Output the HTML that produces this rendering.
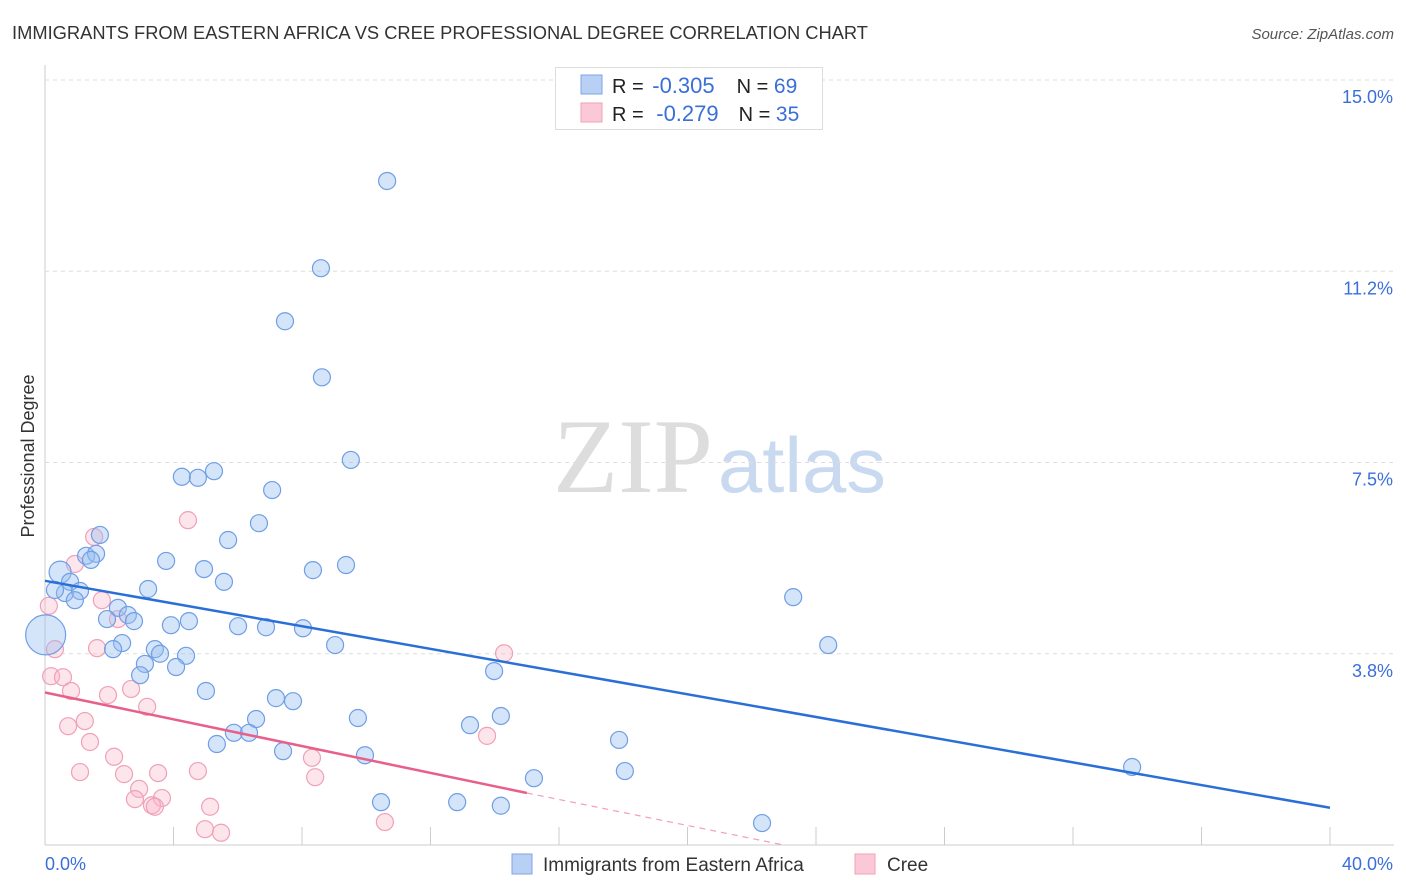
<!DOCTYPE html>
<html><head><meta charset="utf-8"><style>
body{margin:0;background:#fff;font-family:"Liberation Sans",sans-serif;}
svg{display:block}
</style></head><body>
<svg id="c" width="1406" height="892" xmlns="http://www.w3.org/2000/svg">
<text x="12" y="39" font-size="18" fill="#333" textLength="856" lengthAdjust="spacingAndGlyphs">IMMIGRANTS FROM EASTERN AFRICA VS CREE PROFESSIONAL DEGREE CORRELATION CHART</text>
<text x="1394" y="39" font-size="15" fill="#555" font-style="italic" text-anchor="end">Source: ZipAtlas.com</text>
<text x="553" y="492" font-size="106" fill="#ddd" font-family="Liberation Serif,serif" textLength="160" lengthAdjust="spacingAndGlyphs">ZIP</text>
<text x="718" y="492" font-size="78" fill="#c9d9f0" textLength="168" lengthAdjust="spacingAndGlyphs">atlas</text>
<text transform="translate(34,456) rotate(-90)" font-size="18" fill="#333" text-anchor="middle">Professional Degree</text>
<g id="grid"></g><g id="pts"></g><g id="lines"></g>
<g>
<rect x="555.5" y="67.5" width="267" height="62" fill="#fff" stroke="#ddd"/>
<rect x="581" y="75" width="21" height="19" fill="#b7d0f3" stroke="#7ea6e6"/>
<rect x="581" y="103" width="21" height="19" fill="#fac8d6" stroke="#f0a0b8"/>
<text x="612" y="93" font-size="20" fill="#222">R = <tspan fill="#3a6fd8" dx="3" font-size="22">-0.305</tspan><tspan dx="22">N = </tspan><tspan fill="#3a6fd8" font-size="21">69</tspan></text>
<text x="612" y="121" font-size="20" fill="#222">R = <tspan fill="#3a6fd8" dx="7" font-size="22">-0.279</tspan><tspan dx="20">N = </tspan><tspan fill="#3a6fd8" font-size="21">35</tspan></text>
</g>
<g>
<rect x="512" y="854" width="20" height="20" fill="#b7d0f3" stroke="#7ea6e6"/>
<text x="543" y="871" font-size="19" fill="#333">Immigrants from Eastern Africa</text>
<rect x="855" y="854" width="20" height="20" fill="#fac8d6" stroke="#f0a0b8"/>
<text x="887" y="871" font-size="19" fill="#333">Cree</text>
</g>
<text x="45" y="870" font-size="18" fill="#3a6fd8">0.0%</text>
<text x="1393" y="870" font-size="18" fill="#3a6fd8" text-anchor="end">40.0%</text>
</svg>
<script>
const yTicks=[3.8,7.5,11.2,15.0];
const yTickVals=[3.75,7.5,11.25,15];
const blueX=[10.65,8.59,7.47,8.62,9.52,4.26,4.76,5.26,7.07,6.66,1.71,5.70,1.28,1.59,1.43,3.77,4.95,8.34,9.37,0.47,0.78,5.57,3.21,0.62,1.09,0.93,2.27,2.58,1.93,2.77,3.92,4.48,6.01,6.88,8.03,23.29,24.38,2.40,2.12,3.42,3.58,4.39,9.03,3.11,4.08,2.96,13.98,5.01,7.19,7.72,6.57,9.74,13.23,14.19,5.88,6.35,5.35,7.41,9.96,17.87,33.84,18.05,15.22,10.46,12.83,14.19,22.32,0.02,0.31];
const blueY=[13.02,11.31,10.27,9.17,7.55,7.22,7.20,7.33,6.96,6.31,6.08,5.98,5.67,5.71,5.59,5.57,5.41,5.39,5.49,5.35,5.16,5.16,5.02,4.94,4.98,4.80,4.65,4.51,4.43,4.39,4.31,4.39,4.29,4.27,4.25,4.86,3.92,3.96,3.84,3.84,3.75,3.71,3.92,3.55,3.49,3.33,3.41,3.02,2.88,2.82,2.47,2.49,2.35,2.53,2.20,2.20,1.98,1.84,1.76,2.06,1.53,1.45,1.31,0.84,0.84,0.77,0.43,4.12,5.0];
const blueR=[8.5,8.5,8.5,8.5,8.5,8.5,8.5,8.5,8.5,8.5,8.5,8.5,8.5,8.5,8.5,8.5,8.5,8.5,8.5,11,8.5,8.5,8.5,8.5,8.5,8.5,8.5,8.5,8.5,8.5,8.5,8.5,8.5,8.5,8.5,8.5,8.5,8.5,8.5,8.5,8.5,8.5,8.5,8.5,8.5,8.5,8.5,8.5,8.5,8.5,8.5,8.5,8.5,8.5,8.5,8.5,8.5,8.5,8.5,8.5,8.5,8.5,8.5,8.5,8.5,8.5,8.5,20,8.5];
const pinkX=[4.45,1.53,0.93,0.12,1.77,2.27,0.31,1.62,0.19,0.56,0.81,1.96,2.68,14.29,3.18,1.24,0.72,1.40,13.76,2.15,8.31,1.09,2.46,3.52,4.76,8.41,2.93,2.80,3.64,3.33,3.42,5.14,4.98,5.48,10.58];
const pinkY=[6.37,6.04,5.51,4.69,4.80,4.43,3.84,3.86,3.31,3.29,3.02,2.94,3.06,3.76,2.71,2.43,2.33,2.02,2.14,1.73,1.71,1.43,1.39,1.41,1.45,1.33,1.10,0.90,0.92,0.78,0.75,0.75,0.31,0.24,0.45];
const blueLine=[[0,5.18],[40,0.73]];
const pinkLine=[[0,2.99],[15,1.02]];
const pinkDash=[[15,1.02],[23,0]];
const X=v=>45+v*(1285/40), Y=v=>845-v*51;
const NS="http://www.w3.org/2000/svg";
function mk(p,t,a){const e=document.createElementNS(NS,t);for(const k in a)e.setAttribute(k,a[k]);p.appendChild(e);return e;}
const g=document.getElementById('grid');
mk(g,'line',{x1:45,y1:Y(15)-15,x2:45,y2:845,stroke:'#ccc'});
mk(g,'line',{x1:45,y1:845,x2:1394,y2:845,stroke:'#ccc'});
yTickVals.forEach((v,i)=>{
 const l=mk(g,'line',{x1:45,y1:Y(v),x2:1394,y2:Y(v),stroke:'#ddd','stroke-dasharray':'4,4'});
 
 
 const t=mk(g,'text',{x:1393,y:Y(v)+23,'font-size':18,fill:'#3a6fd8','text-anchor':'end'});
 t.textContent=yTicks[i].toFixed(1)+'%';
 
 
});
for(let i=1;i<=10;i++){const l=mk(g,'line',{x1:X(i*4),y1:827,x2:X(i*4),y2:845,stroke:'#ccc'});
 
 }
const p=document.getElementById('pts');
pinkX.forEach((x,i)=>{const c=mk(p,'circle',{cx:X(x),cy:Y(pinkY[i]),r:8.5,fill:'rgba(248,180,200,0.35)',stroke:'#f0a0b8','stroke-width':1.2});
 
 });
blueX.forEach((x,i)=>{const c=mk(p,'circle',{cx:X(x),cy:Y(blueY[i]),r:blueR[i],fill:'rgba(150,190,240,0.4)',stroke:'#6f9ee6','stroke-width':1.2});
 
 });
const L=document.getElementById('lines');
let a=mk(L,'line',{x1:X(blueLine[0][0]),y1:Y(blueLine[0][1]),x2:X(blueLine[1][0]),y2:Y(blueLine[1][1]),stroke:'#2a6fd8','stroke-width':2.5});


a=mk(L,'line',{x1:X(pinkLine[0][0]),y1:Y(pinkLine[0][1]),x2:X(pinkLine[1][0]),y2:Y(pinkLine[1][1]),stroke:'#e8608a','stroke-width':2.5});


a=mk(L,'line',{x1:X(pinkDash[0][0]),y1:Y(pinkDash[0][1]),x2:X(pinkDash[1][0]),y2:Y(pinkDash[1][1]),stroke:'#f0a0b8','stroke-width':1.2,'stroke-dasharray':'6,5'});


</script>
</body></html>
